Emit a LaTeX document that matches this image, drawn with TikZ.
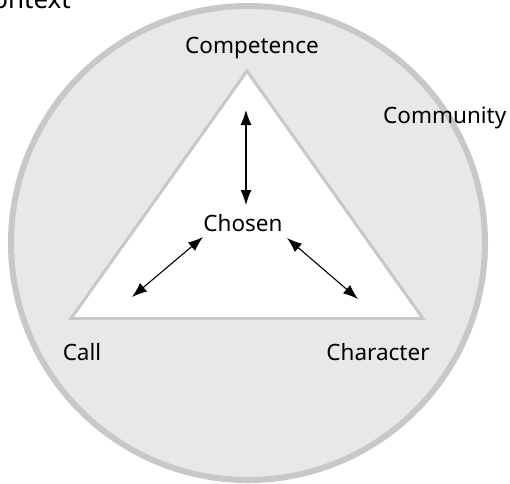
\documentclass[tikz,border=0pt]{standalone}
\usepackage{fontspec}
\setmainfont{Noto Sans}
\usetikzlibrary{arrows.meta}
\definecolor{ringfill}{HTML}{E8E8E8}
\definecolor{ringline}{HTML}{C8C8C8}
\tikzset{
  lbl/.style={inner sep=0pt, font=\fontsize{22.5}{26}\selectfont},
  biglbl/.style={inner sep=0pt, font=\fontsize{26}{30}\selectfont},
  dbl/.style={{Latex[length=15pt,width=11pt]}-{Latex[length=15pt,width=11pt]}, line width=1.1pt, black}
}
\begin{document}
\begin{tikzpicture}[x=1pt,y=-1pt]
\useasboundingbox (0,0) rectangle (510,483);
\fill[white] (0,0) rectangle (510,483);
\draw[ringline, fill=ringfill, line width=6pt] (248,243) circle[radius=237];
\draw[ringline, fill=white, line width=3pt, line join=miter] (247,71) -- (71,318.5) -- (423,318.5) -- cycle;
\node[lbl] (chosen) at (243,223) {Chosen};
\node[lbl] (competence) at (252,48) {Competence};
\node[lbl, anchor=west] (community) at (383,118) {Community};
\node[lbl] (call) at (82,352) {Call};
\node[lbl] (character) at (378,352) {Character};
\node[biglbl, anchor=base east] (context) at (71,8) {Context};
\coordinate (top) at (246,110);
\coordinate (topb) at (246,205);
\coordinate (lefta) at (203,237);
\coordinate (leftb) at (132,297);
\coordinate (righta) at (287,238);
\coordinate (rightb) at (358,299);
\draw[dbl] (top) -- (topb);
\draw[dbl] (lefta) -- (leftb);
\draw[dbl] (righta) -- (rightb);
\end{tikzpicture}
\end{document}
